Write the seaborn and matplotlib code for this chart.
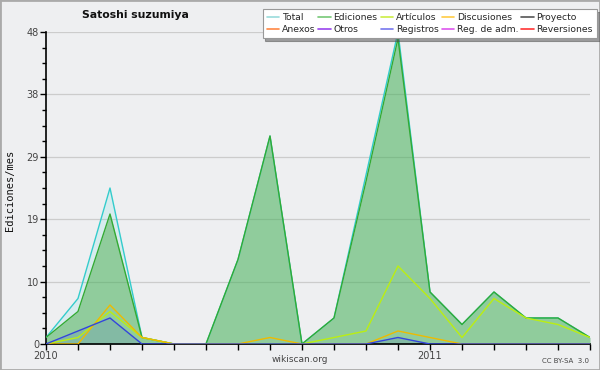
"""
Monthly edit chart for one user (wikiscan style)
"""

import pandas as pd
import matplotlib.pyplot as plt
import seaborn as sns
from matplotlib.lines import Line2D
from matplotlib.patches import Rectangle

# data: Jan 2010 .. Jun 2011, one value per month
months = list(range(18))
total = [1, 7, 24, 1, 0, 0, 13, 32, 0, 4, 26, 48, 8, 3, 8, 4, 4, 1]
ediciones = [1, 5, 20, 1, 0, 0, 13, 32, 0, 4, 25, 47, 8, 3, 8, 4, 4, 1]
articulos = [0, 1, 5, 1, 0, 0, 0, 0, 0, 1, 2, 12, 7, 1, 7, 4, 3, 1]
discusiones = [0, 0, 6, 1, 0, 0, 0, 1, 0, 0, 0, 2, 1, 0, 0, 0, 0, 0]
registros = [0, 2, 4, 0, 0, 0, 0, 0, 0, 0, 0, 1, 0, 0, 0, 0, 0, 0]

y_ticks = [0, 9.6, 19.2, 28.8, 38.4, 48]
y_ticklabels = ['0', '10', '19', '29', '38', '48']
x_ticklabels = {0: '2010', 12: '2011'}

legend_labels = ['Total', 'Anexos', 'Ediciones', 'Otros', 'Artículos', 'Registros',
                 'Discusiones', 'Reg. de adm.', 'Proyecto', 'Reversiones']
legend_colors = {'Total': '#9adcdc', 'Ediciones': '#77c877', 'Artículos': '#ccee44',
                 'Discusiones': '#ffcc44', 'Proyecto': '#555555', 'Anexos': '#ff8844',
                 'Otros': '#9944ee', 'Registros': '#7777ee', 'Reg. de adm.': '#dd55ee',
                 'Reversiones': '#ff3333'}

line_colors = {'Total': '#33cccc', 'Ediciones': '#33aa33', 'Artículos': '#bbee11',
               'Discusiones': '#eebb00', 'Registros': '#3344dd'}
fill_colors = {'Total': '#55dddd', 'Ediciones': '#44aa44', 'Registros': '#3344dd'}
fill_alpha = {'Total': 0.15, 'Ediciones': 0.48, 'Registros': 0.13}

series = {'Total': total, 'Ediciones': ediciones, 'Artículos': articulos,
          'Discusiones': discusiones, 'Registros': registros}

rows = []
for name, vals in series.items():
    for m, v in zip(months, vals):
        rows.append({'mes': m, 'ediciones': v, 'serie': name})
df = pd.DataFrame(rows)

bg = '#eeeff1'
sns.set_style("white")
plt.rcParams['font.family'] = ['DejaVu Sans']

fig = plt.figure(figsize=(6, 3.7), dpi=100, facecolor=bg)
ax = fig.add_axes([46 / 600, 1 - 344 / 370, 544 / 600, 312 / 370])
ax.set_facecolor(bg)

# fills first, then the lines on top
for name, alpha in fill_alpha.items():
    ax.fill_between(months, series[name], 0, color=fill_colors[name],
                    alpha=alpha, linewidth=0, zorder=1)

sns.lineplot(data=df, x='mes', y='ediciones', hue='serie', palette=line_colors,
             hue_order=list(series.keys()), linewidth=1.0, legend=False, ax=ax,
             estimator=None, zorder=3)

ax.set_xlim(0, 17)
ax.set_ylim(0, 48)
ax.set_xticks(months)
ax.set_xticklabels([x_ticklabels.get(m, '') for m in months], fontsize=7)
ax.set_yticks(y_ticks)
ax.set_yticklabels(y_ticklabels, fontsize=7)
ax.set_yticks([t + 2.4 * k for t in y_ticks[:-1] for k in (1, 2, 3)], minor=True)
ax.tick_params(axis='both', which='major', direction='out', length=4, width=1,
               colors='black', labelcolor='#444444', pad=1)
ax.tick_params(axis='y', which='minor', direction='out', length=3, width=1, colors='black')
ax.tick_params(axis='y', which='both', left=True)
ax.tick_params(axis='x', bottom=True)

ax.yaxis.grid(True, color='#cccccc', linewidth=0.9)
ax.set_axisbelow(True)
ax.set_xlabel('')
ax.set_ylabel('')
for side in ['top', 'right']:
    ax.spines[side].set_visible(False)
for side in ['left', 'bottom']:
    ax.spines[side].set_color('black')
    ax.spines[side].set_linewidth(1.2)

# texts
fig.text(135 / 600, 1 - 15 / 370, 'Satoshi suzumiya', ha='center', va='center',
         fontsize=7.8, fontweight='bold', color='#111111')
fig.text(10 / 600, 1 - 190 / 370, 'Ediciones/mes', rotation=90, ha='center', va='center',
         fontsize=7.5, family='DejaVu Sans Mono', color='#111111')
fig.text(300 / 600, 1 - 359 / 370, 'wikiscan.org', ha='center', va='center',
         fontsize=6.5, color='#444444')
fig.text(589 / 600, 1 - 361 / 370, 'CC BY-SA  3.0', ha='right', va='center',
         fontsize=5, color='#444444')

# legend
handles = [Line2D([0], [0], color=legend_colors[n], linewidth=1.2) for n in legend_labels]
leg = fig.legend(handles, legend_labels, ncol=5, loc='upper right',
                 bbox_to_anchor=(597 / 600, 1 - 9 / 370), fontsize=6.7,
                 frameon=True, fancybox=False, shadow=True, handlelength=1.3,
                 handletextpad=0.3, columnspacing=0.35, labelspacing=0.3,
                 borderpad=0.45, borderaxespad=0)
leg.get_frame().set_edgecolor('#999999')
leg.get_frame().set_linewidth(0.8)
leg.get_frame().set_facecolor('white')
leg.get_frame().set_alpha(1)

# figure border
fig.patches.append(Rectangle((0, 0), 1, 1, transform=fig.transFigure, fill=False,
                             edgecolor='#aaaaaa', linewidth=2))

plt.savefig('out.png', dpi=100, facecolor=bg)
plt.close()
